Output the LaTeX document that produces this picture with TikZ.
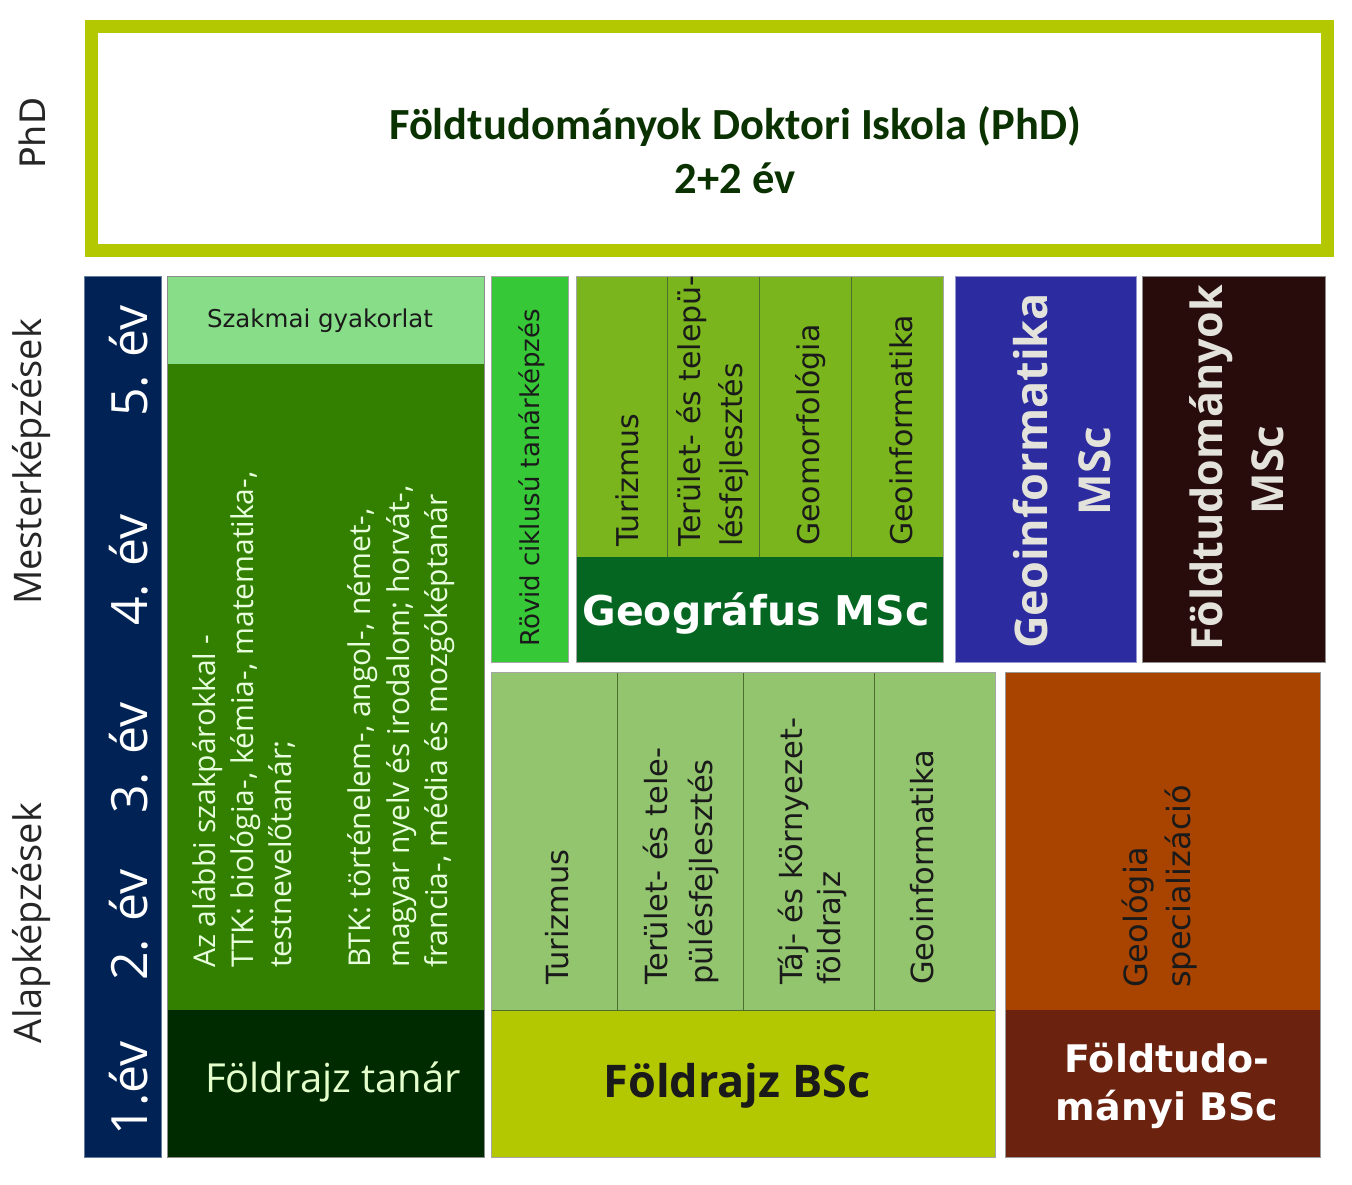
\documentclass[tikz,border=0pt]{standalone}
\usepackage{fontspec}
\setmainfont{DejaVu Sans}
\newfontfamily\dvf{DejaVu Sans}
\newfontfamily\osf{Open Sans}
\newfontfamily\cbf{Carlito}
\definecolor{lime}{HTML}{B3C800}
\definecolor{phdtxt}{HTML}{0A3200}
\definecolor{navy}{HTML}{002255}
\definecolor{szak}{HTML}{88DD88}
\definecolor{tgreen}{HTML}{338000}
\definecolor{tdark}{HTML}{002B00}
\definecolor{rovid}{HTML}{37C837}
\definecolor{mscgreen}{HTML}{7AB51D}
\definecolor{geogr}{HTML}{056622}
\definecolor{gblue}{HTML}{2C2CA0}
\definecolor{fbrown}{HTML}{280C0C}
\definecolor{bscgreen}{HTML}{92C56E}
\definecolor{orange}{HTML}{A84300}
\definecolor{fdark}{HTML}{6B2310}
\definecolor{txtdark}{HTML}{1A1A1A}
\definecolor{lighttxt}{HTML}{E8FFDD}
\definecolor{tanartxt}{HTML}{E5FFCC}
\definecolor{msctxt}{HTML}{E3E3DB}
\definecolor{sep}{HTML}{4E6E2E}
\begin{document}
\begin{tikzpicture}[x=1pt,y=-1pt,
  edge/.style={draw=#1,line width=0.8pt},
  colsep/.style={draw=sep,line width=0.9pt},
  vt/.style={rotate=90,anchor=base west,inner sep=0pt,text=txtdark,font=\dvf\fontsize{#1}{#1}\selectfont},
  vc/.style={rotate=90,anchor=base,inner sep=0pt},
  yr/.style={vc,anchor=center,text=white,font=\osf\fontsize{50}{50}\selectfont},
  side/.style={vc,anchor=center,text=black!85,font=\osf\fontsize{38}{38}\selectfont},
  ttk/.style={rotate=90,anchor=base west,inner sep=0pt,text=lighttxt,font=\osf\fontsize{30}{30}\selectfont},
  big/.style={rotate=90,anchor=base,inner sep=0pt,text=msctxt,font=\osf\bfseries\fontsize{#1}{#1}\selectfont}
]
\useasboundingbox (0,0) rectangle (1352,1184);
\fill[white] (0,0) rectangle (1352,1184);

% PhD frame
\draw[lime,line width=13pt] (91.5,26.5) rectangle (1327.5,250);
\node[anchor=base,inner sep=0pt,text=phdtxt,font=\cbf\bfseries\fontsize{44.5}{44.5}\selectfont] (phdA) at (735,139) {Földtudományok Doktori Iskola (PhD)};
\node[anchor=base,inner sep=0pt,text=phdtxt,font=\cbf\bfseries\fontsize{44.5}{44.5}\selectfont] (phdB) at (735,193) {2+2 év};
\node[vc,anchor=center,text=black!85,font=\dvf\fontsize{35}{35}\selectfont] (phdL) at (32,133) {PhD};

% side labels
\node[side] (mester) at (32,462) {Mesterképzések};
\node[side] (alap) at (32,923) {Alapképzések};

% year column
\filldraw[fill=navy,edge=navy!60!white] (84,276) rectangle (161,1157);
\node[yr] (y5) at (129,361) {5. év};
\node[yr] (y4) at (129,570) {4. év};
\node[yr] (y3) at (129,758) {3. év};
\node[yr] (y2) at (129,925) {2. év};
\node[yr] (y1) at (129,1088) {1.év};

% Földrajz tanár column
\fill[szak] (167,276) rectangle (484,364);
\fill[tgreen] (167,364) rectangle (484,1010);
\fill[tdark] (167,1010) rectangle (484,1157);
\draw[edge=black!45] (167,276) rectangle (484,1157);
\node[anchor=base,inner sep=0pt,text=txtdark,font=\dvf\fontsize{24.5}{24.5}\selectfont] (szakmai) at (320,327) {Szakmai gyakorlat};
\node[ttk] (t1) at (215,968) {Az alábbi szakpárokkal -};
\node[ttk] (t2) at (253,968) {TTK: biológia-, kémia-, matematika-,};
\node[ttk] (t3) at (291,968) {testnevelőtanár;};
\node[ttk] (t4) at (370,968) {BTK: történelem-, angol-, német-,};
\node[ttk] (t5) at (409,968) {magyar nyelv és irodalom; horvát-,};
\node[ttk] (t6) at (447,968) {francia-, média és mozgóképtanár};
\node[anchor=base,inner sep=0pt,text=tanartxt,font=\osf\fontsize{40}{40}\selectfont] (tanar) at (333,1092) {Földrajz tanár};

% Rövid ciklusú
\filldraw[fill=rovid,edge=black!35] (491,276) rectangle (568,662);
\node[vt=26] (rovidT) at (539,647) {Rövid ciklusú tanárképzés};

% Geográfus MSc
\fill[mscgreen] (576,276) rectangle (943,557);
\fill[geogr] (576,557) rectangle (943,662);
\draw[colsep] (667,276) -- (667,557);
\draw[colsep] (759,276) -- (759,557);
\draw[colsep] (851,276) -- (851,557);
\draw[edge=black!35] (576,276) rectangle (943,662);
\node[vt=30] (m1) at (638,547) {Turizmus};
\node[vt=30] (m2a) at (700,547) {Terület- és telepü-};
\node[vt=30] (m2b) at (742,547) {lésfejlesztés};
\node[vt=30] (m3) at (819,546) {Geomorfológia};
\node[vt=30] (m4) at (912,546) {Geoinformatika};
\node[anchor=base,inner sep=0pt,text=white,font=\dvf\bfseries\fontsize{41}{41}\selectfont] (geogrT) at (756,625) {Geográfus MSc};

% Geoinformatika MSc
\filldraw[fill=gblue,edge=gblue!50!white] (955,276) rectangle (1136,662);
\node[big=45] (gi1) at (1047,471) {Geoinformatika};
\node[big=44] (gi2) at (1110,471) {MSc};

% Földtudományok MSc
\filldraw[fill=fbrown,edge=black!45] (1142,276) rectangle (1325,662);
\node[big=43] (fm1) at (1222,468) {Földtudományok};
\node[big=44] (fm2) at (1283,470) {MSc};

% Földrajz BSc
\fill[bscgreen] (491,672) rectangle (995,1010);
\fill[lime] (491,1010) rectangle (995,1157);
\draw[colsep] (617,672) -- (617,1010);
\draw[colsep] (743,672) -- (743,1010);
\draw[colsep] (874,672) -- (874,1010);
\draw[edge=sep] (491,1010) -- (995,1010);
\draw[edge=black!35] (491,672) rectangle (995,1157);
\node[vt=30.5] (b1) at (568,985) {Turizmus};
\node[vt=30.5] (b2a) at (667,985) {Terület- és tele-};
\node[vt=30.5] (b2b) at (712,985) {pülésfejlesztés};
\node[vt=30.5] (b3a) at (802,985) {Táj- és környezet-};
\node[vt=30.5] (b3b) at (840,985) {földrajz};
\node[vt=30.5] (b4) at (933,985) {Geoinformatika};
\node[anchor=base,inner sep=0pt,text=txtdark,font=\osf\bfseries\fontsize{45}{45}\selectfont] (bscT) at (737,1097) {Földrajz BSc};

% Földtudományi BSc
\fill[orange] (1005,672) rectangle (1320,1010);
\fill[fdark] (1005,1010) rectangle (1320,1157);
\draw[edge=black!40] (1005,672) rectangle (1320,1157);
\node[vt=32] (g1) at (1147,988) {Geológia};
\node[vt=32] (g2) at (1190,988) {specializáció};
\node[anchor=base,inner sep=0pt,text=white,font=\dvf\bfseries\fontsize{38}{38}\selectfont] (fbA) at (1167,1072) {Földtudo-};
\node[anchor=base,inner sep=0pt,text=white,font=\dvf\bfseries\fontsize{38}{38}\selectfont] (fbB) at (1167,1120) {mányi BSc};
\end{tikzpicture}
\end{document}
